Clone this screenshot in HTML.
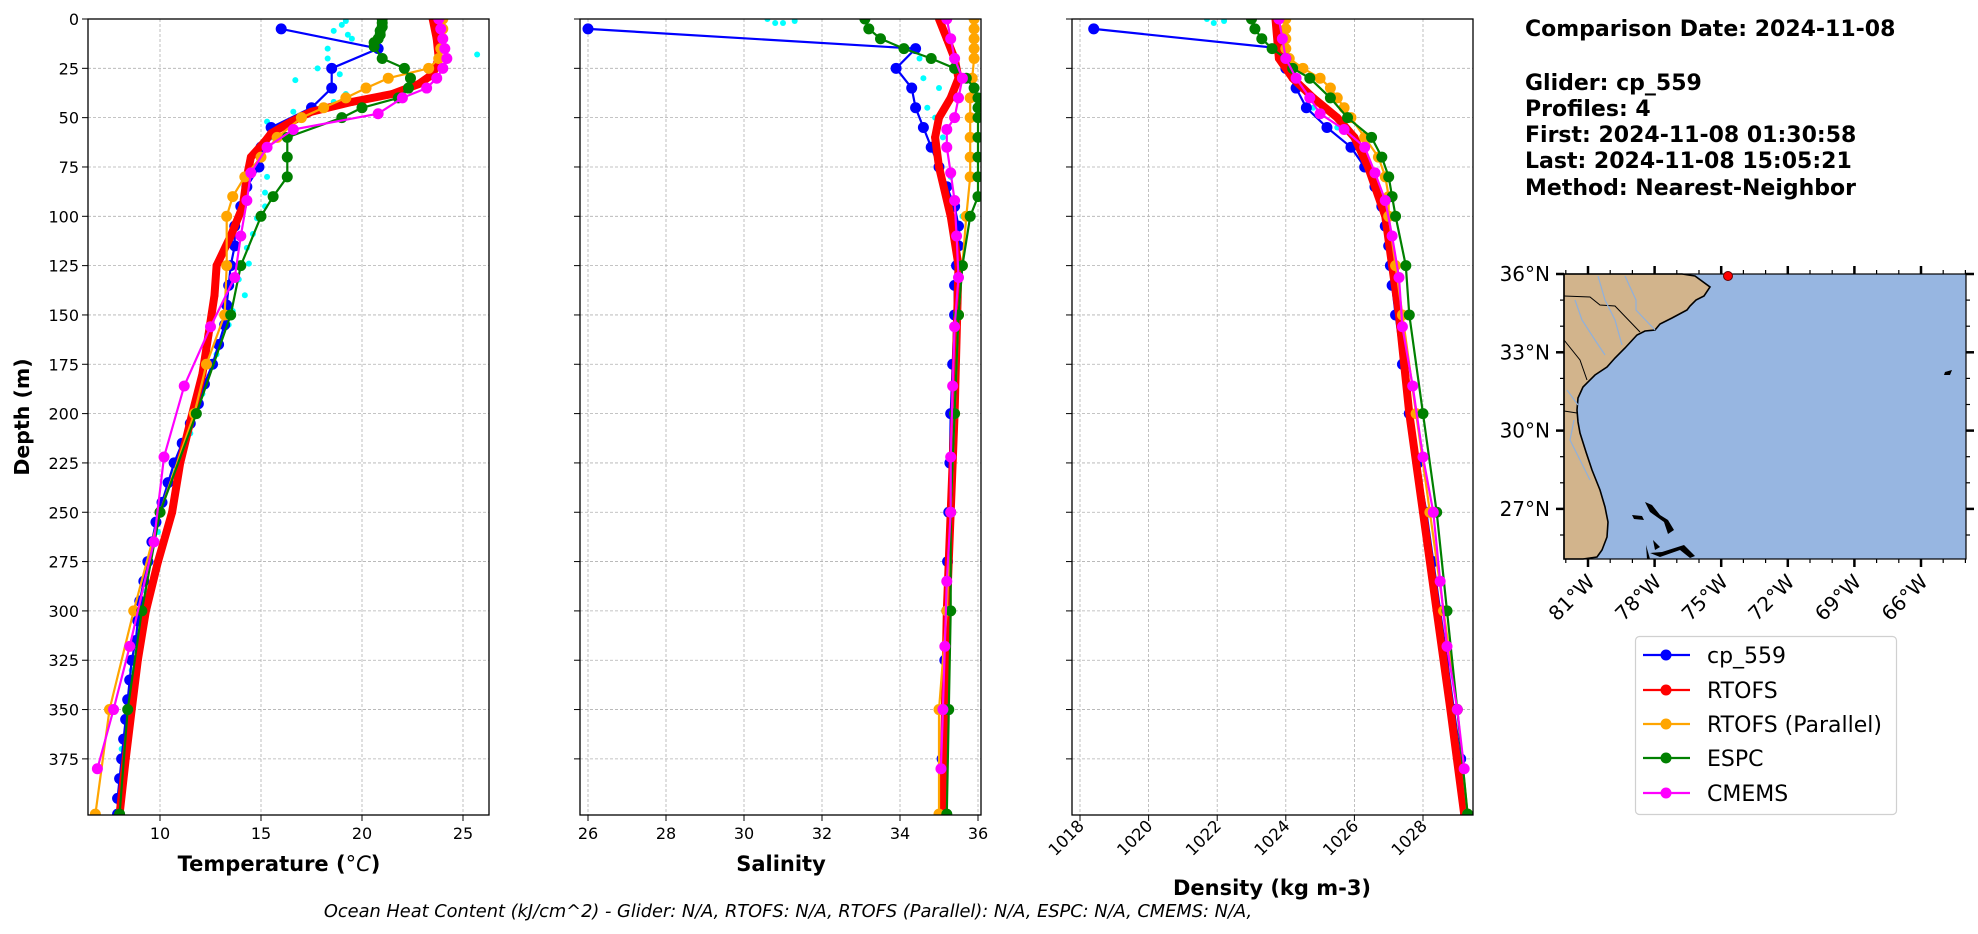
<!DOCTYPE html>
<html><head><meta charset="utf-8">
<style>
html,body{margin:0;padding:0;background:#fff;overflow:hidden;}
svg{display:block;font-family:"DejaVu Sans","Liberation Sans",sans-serif;}
</style></head>
<body>
<svg id="s" width="1978" height="934" viewBox="0 0 1978 934" xmlns="http://www.w3.org/2000/svg">
<rect width="1978" height="934" fill="#fff"/>
<g id="g"></g>
<g font-weight="bold" font-size="22" fill="#000">
<text x="1525" y="36">Comparison Date: 2024-11-08</text>
<text x="1525" y="90">Glider: cp_559</text>
<text x="1525" y="116">Profiles: 4</text>
<text x="1525" y="142">First: 2024-11-08 01:30:58</text>
<text x="1525" y="168">Last: 2024-11-08 15:05:21</text>
<text x="1525" y="195">Method: Nearest-Neighbor</text>
</g>
<g>
<rect x="1564" y="274" width="402" height="285" fill="#97b6e1"/>
<path d="M1564,274 L1682,274 L1695,276 L1710,287 L1704,296 L1696,300 L1690,306 L1687,310 L1672,318 L1660,324 L1655,330 L1645,331 L1637,335 L1625,348 L1615,358 L1607,367 L1595,375 L1583,387 L1578,398 L1577,410 L1578,422 L1580,433 L1586,452 L1592,470 L1600,490 L1605,507 L1608,522 L1607,537 L1602,550 L1597,557 L1583,559 L1564,559 Z" fill="#d2b48c" stroke="#000" stroke-width="1.6"/>
<path d="M1564,296 L1590,297 L1600,305 L1615,306 L1640,332" fill="none" stroke="#000" stroke-width="1"/>
<path d="M1564,340 L1580,360 L1587,380" fill="none" stroke="#000" stroke-width="1"/>
<path d="M1564,411 L1577,413" fill="none" stroke="#000" stroke-width="1"/>
<g fill="none" stroke="#8fb0dc" stroke-width="1.2">
<path d="M1598,276 L1605,300 L1615,320 L1622,345"/>
<path d="M1625,276 L1636,300 L1636,310 L1655,330"/>
<path d="M1575,300 L1582,320 L1595,340 L1605,355"/>
<path d="M1567,390 L1578,405"/>
<path d="M1574,420 L1570,440 L1580,460 L1590,480"/>
</g>
<g fill="#000">
<path d="M1645,502 L1652,505 L1660,515 L1668,520 L1674,530 L1668,534 L1664,522 L1650,512 Z"/>
<path d="M1632,515 L1642,516 L1644,520 L1634,519 Z"/>
<path d="M1653,540 L1660,547 L1655,550 Z"/>
<path d="M1650,553 L1662,552 L1684,545 L1695,556 L1690,558 L1680,550 L1660,557 Z"/>
<path d="M1646,545 L1650,559 L1647,559 Z"/>
<path d="M1945,372 L1952,370 L1950,375 L1944,375 Z"/>
</g>
<rect x="1564" y="274" width="402" height="285" fill="none" stroke="#000" stroke-width="1.2"/>
<circle cx="1728" cy="276" r="4.5" fill="#f00" stroke="#600" stroke-width="1"/>
</g>
<g>
<rect x="1635.5" y="636.5" width="261" height="178" rx="4" fill="#fff" stroke="#d0d0d0" stroke-width="1.2"/>
<g font-size="22" fill="#000">
<line x1="1643" y1="655" x2="1690" y2="655" stroke="#00f" stroke-width="2.2"/><circle cx="1666" cy="655" r="5.5" fill="#00f"/><text x="1707" y="663">cp_559</text>
<line x1="1643" y1="690" x2="1690" y2="690" stroke="#f00" stroke-width="2.2"/><circle cx="1666" cy="690" r="5.5" fill="#f00"/><text x="1707" y="698">RTOFS</text>
<line x1="1643" y1="724" x2="1690" y2="724" stroke="#ffa500" stroke-width="2.2"/><circle cx="1666" cy="724" r="5.5" fill="#ffa500"/><text x="1707" y="732">RTOFS (Parallel)</text>
<line x1="1643" y1="758" x2="1690" y2="758" stroke="#008000" stroke-width="2.2"/><circle cx="1666" cy="758" r="5.5" fill="#008000"/><text x="1707" y="766">ESPC</text>
<line x1="1643" y1="793" x2="1690" y2="793" stroke="#f0f" stroke-width="2.2"/><circle cx="1666" cy="793" r="5.5" fill="#f0f"/><text x="1707" y="801">CMEMS</text>
</g>
</g>
<text x="788" y="917" font-size="17.8" font-style="italic" text-anchor="middle">Ocean Heat Content (kJ/cm^2) - Glider: N/A,  RTOFS: N/A,  RTOFS (Parallel): N/A,  ESPC: N/A,  CMEMS: N/A,</text>
<text transform="translate(29,417) rotate(-90)" font-size="20.5" font-weight="bold" text-anchor="middle">Depth (m)</text>
<text x="279" y="871" font-size="21" font-weight="bold" text-anchor="middle">Temperature (<tspan font-style="italic" font-weight="normal">°C</tspan>)</text>
<text x="781" y="871" font-size="21" font-weight="bold" text-anchor="middle">Salinity</text>
<text x="1272" y="895" font-size="21" font-weight="bold" text-anchor="middle">Density (kg m-3)</text>
</svg>
<script>
var NS="http://www.w3.org/2000/svg",G=document.getElementById('g');
function el(t,a,p){var e=document.createElementNS(NS,t);for(var k in a)e.setAttribute(k,a[k]);(p||G).appendChild(e);return e;}
var T=19,B=815;function Y(d){return T+d*1.973;}
var panels=[
 {x0:88,x1:489,f:function(v){return 160+(v-10)*20.2;},ticks:[10,15,20,25],lab:true},
 {x0:580,x1:981,f:function(v){return 588+(v-26)*39;},ticks:[26,28,30,32,34,36]},
 {x0:1072,x1:1473,f:function(v){return 1080+(v-1018)*34.3;},ticks:[1018,1020,1022,1024,1026,1028],rot:true}
];
var data=[
 {glider:[[5,16],[15,20.8],[25,18.5],[35,18.5],[45,17.5],[55,15.5],[65,15],[75,14.9],[85,14.3],[95,14],[105,13.7],[115,13.7],[125,13.5],[135,13.4],[145,13.3],[155,13.2],[165,12.9],[175,12.6],[185,12.2],[195,11.9],[205,11.5],[215,11.1],[225,10.7],[235,10.4],[245,10.1],[255,9.8],[265,9.6],[275,9.4],[285,9.2],[295,9],[305,8.9],[315,8.8],[325,8.6],[335,8.5],[345,8.4],[355,8.3],[365,8.2],[375,8.1],[385,8],[395,7.9],[403,7.9]],
  cyan:[[1,19.2],[3,19],[6,18.6],[8,19.3],[10,19.5],[18,25.7],[15,18.3],[20,18.3],[25,17.8],[28,18.9],[31,16.7],[38,19.2],[42,18.6],[47,16.6],[52,15.3],[60,15.5],[80,15.3],[88,15.2],[95,15.2],[101,14.8],[109,14.6],[116,14.3],[124,14.4],[132,13.9],[140,14.2],[148,13.6],[155,13.4],[170,12.8],[190,12.1],[210,11.5],[230,10.7],[260,9.9],[290,9.3],[330,8.6],[370,8.1]],
  red:[[0,23.5],[10,23.7],[20,23.8],[28,23.5],[33,22.8],[38,21.5],[42,19.5],[47,17.5],[52,16.5],[58,15.5],[62,15.2],[70,14.5],[80,14.3],[95,14.1],[110,13.5],[125,12.8],[140,12.7],[160,12.4],[180,12.1],[200,11.6],[225,11],[250,10.6],[275,9.9],[300,9.3],[325,8.9],[350,8.6],[375,8.3],[403,8]],
  orange:[[0,24],[5,24],[15,23.9],[20,23.8],[25,23.3],[30,21.3],[35,20.2],[40,19.2],[45,18.1],[50,17],[60,15.8],[70,15],[80,14.2],[90,13.6],[100,13.3],[125,13.3],[150,13.2],[175,12.3],[200,11.7],[250,10],[300,8.7],[350,7.5],[403,6.8]],
  green:[[0,21],[2,21],[4,21],[6,20.9],[8,20.9],[10,20.8],[12,20.6],[14,20.6],[20,21],[25,22.1],[30,22.4],[35,22.3],[40,21.8],[45,20],[50,19],[60,16.3],[70,16.3],[80,16.3],[90,15.6],[100,15],[125,14],[150,13.5],[200,11.8],[250,10],[300,9.1],[350,8.4],[403,8]],
  mag:[[0,23.8],[5,23.9],[10,24],[15,24.1],[20,24.2],[25,24],[30,23.7],[35,23.2],[40,22],[48,20.8],[56,16.6],[65,15.3],[78,14.5],[92,14.3],[110,14],[131,13.7],[156,12.5],[186,11.2],[222,10.2],[265,9.7],[318,8.5],[350,7.7],[380,6.9]]},
 {glider:[[5,26],[15,34.4],[25,33.9],[35,34.3],[45,34.4],[55,34.6],[65,34.8],[75,35],[85,35.2],[95,35.4],[105,35.5],[115,35.5],[125,35.45],[135,35.4],[150,35.4],[175,35.35],[200,35.3],[225,35.28],[250,35.25],[275,35.22],[300,35.2],[325,35.15],[350,35.1],[375,35.08],[403,35.05]],
  cyan:[[0,30.6],[1,31.3],[2,30.8],[2,31.0],[15,34.1],[20,34.5],[30,34.6],[35,35.0],[40,35.4],[45,34.7],[50,34.9],[60,35.1],[80,35.3],[100,35.6],[150,35.4],[200,35.3],[300,35.2]],
  red:[[0,35],[10,35.2],[20,35.4],[30,35.5],[40,35.3],[50,35],[60,34.9],[75,35],[100,35.3],[125,35.5],[200,35.4],[300,35.2],[403,35.1]],
  orange:[[0,35.9],[5,35.9],[10,35.9],[15,35.9],[20,35.9],[30,35.85],[40,35.8],[50,35.8],[60,35.8],[70,35.8],[80,35.8],[100,35.7],[125,35.6],[150,35.5],[200,35.4],[250,35.3],[300,35.2],[350,35],[403,35]],
  green:[[0,33.1],[5,33.2],[10,33.5],[15,34.1],[20,34.8],[25,35.4],[30,35.7],[35,35.9],[40,36],[45,36],[50,36],[60,36],[70,36],[80,36],[90,36],[100,35.8],[125,35.6],[150,35.5],[200,35.4],[250,35.3],[300,35.3],[350,35.25],[403,35.2]],
  mag:[[0,35.2],[10,35.3],[20,35.4],[30,35.6],[40,35.5],[50,35.4],[56,35.2],[65,35.2],[78,35.3],[92,35.4],[110,35.45],[131,35.5],[156,35.4],[186,35.35],[222,35.3],[250,35.3],[285,35.2],[318,35.15],[350,35.1],[380,35.05]]},
 {glider:[[5,1018.4],[15,1023.9],[25,1024],[35,1024.3],[45,1024.6],[55,1025.2],[65,1025.9],[75,1026.3],[85,1026.6],[95,1026.8],[105,1026.9],[115,1027],[125,1027.05],[135,1027.1],[150,1027.2],[175,1027.4],[200,1027.6],[225,1027.85],[250,1028.1],[275,1028.3],[300,1028.5],[325,1028.7],[350,1028.9],[375,1029.1],[403,1029.3]],
  cyan:[[0,1021.7],[1,1022.2],[2,1021.9],[15,1023.7],[25,1024.1],[35,1024.5],[45,1024.8],[55,1025.5],[65,1025.9],[80,1026.6],[100,1026.9],[150,1027.2],[250,1028.1]],
  red:[[0,1023.7],[20,1023.8],[30,1024.2],[40,1024.8],[50,1025.5],[60,1026],[75,1026.4],[100,1026.9],[125,1027.1],[150,1027.3],[200,1027.6],[250,1028],[300,1028.4],[350,1028.8],[403,1029.2]],
  orange:[[0,1024],[5,1024],[10,1024],[15,1024],[20,1024.1],[25,1024.5],[30,1025],[35,1025.3],[40,1025.5],[45,1025.7],[50,1025.9],[60,1026.3],[70,1026.7],[80,1026.9],[90,1027],[100,1027],[125,1027.2],[150,1027.4],[200,1027.8],[250,1028.2],[300,1028.6],[350,1029],[403,1029.3]],
  green:[[0,1023],[5,1023.1],[10,1023.3],[15,1023.6],[20,1024],[25,1024.2],[30,1024.7],[40,1025.3],[50,1025.8],[60,1026.5],[70,1026.8],[80,1027],[90,1027.1],[100,1027.2],[125,1027.5],[150,1027.6],[200,1028],[250,1028.4],[300,1028.7],[350,1029],[403,1029.3]],
  mag:[[0,1023.8],[10,1023.9],[20,1024],[30,1024.3],[40,1024.7],[48,1025],[56,1025.7],[65,1026.3],[78,1026.6],[92,1026.9],[110,1027.1],[131,1027.3],[156,1027.4],[186,1027.7],[222,1028],[250,1028.3],[285,1028.5],[318,1028.7],[350,1029],[380,1029.2]]}
];
panels.forEach(function(p,i){
 var cg=el('g',{});
 var cp=el('clipPath',{id:'c'+i},cg);el('rect',{x:p.x0,y:T,width:p.x1-p.x0,height:B-T},cp);
 p.ticks.forEach(function(t){var x=p.f(t);el('line',{x1:x,y1:T,x2:x,y2:B,stroke:'#b0b0b0','stroke-width':0.8,'stroke-dasharray':'3,2'});
  el('line',{x1:x,y1:B,x2:x,y2:B+6,stroke:'#000','stroke-width':1});
  if(p.rot){var t2=el('text',{transform:'translate('+(x+5)+','+(B+12)+') rotate(-45)','font-size':16.5,'text-anchor':'end'});t2.textContent=t;}
  else{var t1=el('text',{x:x,y:B+24,'font-size':16,'text-anchor':'middle'});t1.textContent=t;}
 });
 for(var d=0;d<=375;d+=25){var y=Y(d);el('line',{x1:p.x0,y1:y,x2:p.x1,y2:y,stroke:'#b0b0b0','stroke-width':0.8,'stroke-dasharray':'3,2'});
  el('line',{x1:p.x0-6,y1:y,x2:p.x0,y2:y,stroke:'#000','stroke-width':1});
  if(p.lab){var tt=el('text',{x:p.x0-9,y:y+6,'font-size':16,'text-anchor':'end'});tt.textContent=d;}}
 var D=data[i],sg=el('g',{'clip-path':'url(#c'+i+')'});
 function line(pts,c,w,r,nl){var s=pts.map(function(q){return p.f(q[1]).toFixed(1)+','+Y(q[0]).toFixed(1);}).join(' ');
  if(!nl)el('polyline',{points:s,fill:'none',stroke:c,'stroke-width':w,'stroke-linejoin':'round'},sg);
  pts.forEach(function(q){el('circle',{cx:p.f(q[1]),cy:Y(q[0]),r:r,fill:c},sg);});}
 line(D.cyan,'#00ffff',0,3,true);
 line(D.glider,'#0000ff',2.2,5.5);
 line(D.red,'#ff0000',8,4);
 line(D.orange,'#ffa500',2.2,5.5);
 line(D.green,'#008000',2.2,5.5);
 line(D.mag,'#ff00ff',2.2,5.5);
 el('rect',{x:p.x0,y:T,width:p.x1-p.x0,height:B-T,fill:'none',stroke:'#000','stroke-width':1.3});
});
var mg=el('g',{});
[81,78,75,72,69,66].forEach(function(l){var x=1588+(81-l)*22.2;
 el('line',{x1:x,y1:559,x2:x,y2:567,stroke:'#000','stroke-width':2.5},mg);
 el('line',{x1:x,y1:266,x2:x,y2:274,stroke:'#000','stroke-width':2.5},mg);
 var t=el('text',{transform:'translate('+(x+8)+','+(583)+') rotate(-45)','font-size':20,'text-anchor':'end'},mg);t.textContent=l+'°W';});
for(var l=82;l>=64;l--){var x=1588+(81-l)*22.2;if(x<1564||x>1966)continue;el('line',{x1:x,y1:559,x2:x,y2:563,stroke:'#000','stroke-width':1.2},mg);el('line',{x1:x,y1:270,x2:x,y2:274,stroke:'#000','stroke-width':1.2},mg);}
[36,33,30,27].forEach(function(a){var y=274+(36-a)*26.1;
 el('line',{x1:1556,y1:y,x2:1564,y2:y,stroke:'#000','stroke-width':2.5},mg);
 el('line',{x1:1966,y1:y,x2:1974,y2:y,stroke:'#000','stroke-width':2.5},mg);
 var t=el('text',{x:1550,y:y+7,'font-size':20,'text-anchor':'end'},mg);t.textContent=a+'°N';});
for(var a=36;a>=26;a--){var y=274+(36-a)*26.1;el('line',{x1:1560,y1:y,x2:1564,y2:y,stroke:'#000','stroke-width':1.2},mg);el('line',{x1:1966,y1:y,x2:1970,y2:y,stroke:'#000','stroke-width':1.2},mg);}
</script>
</body></html>
